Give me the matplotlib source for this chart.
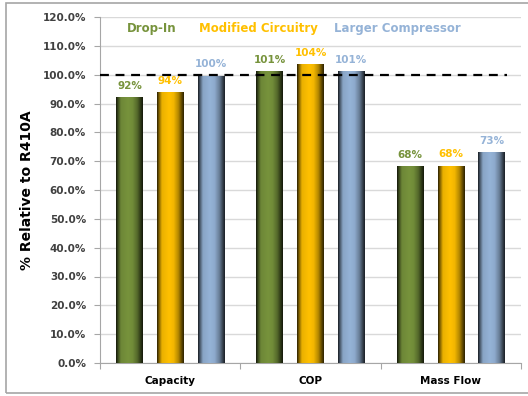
import numpy as np
import matplotlib
matplotlib.use("Agg")
import matplotlib.pyplot as plt
from matplotlib.colors import to_rgb
from matplotlib.patches import Rectangle

categories = ["Capacity", "COP", "Mass Flow"]
series_names = ["Drop-In", "Modified Circuitry", "Larger Compressor"]
drop_in = [92.2, 101.3, 68.3]
modified = [94.0, 103.6, 68.45]
larger = [99.6, 101.3, 73.2]
series_values = [drop_in, modified, larger]
series_colors = ["#77933C", "#FFC000", "#95B3D7"]
yticks = [0, 10, 20, 30, 40, 50, 60, 70, 80, 90, 100, 110, 120]
reference_level = 100

W, H = 528, 396
fig = plt.figure(figsize=(W / 100, H / 100), dpi=100)
ax = fig.add_axes([100 / W, 1 - 363 / H, 421 / W, 346 / H])

# outer chart frame
fig.add_artist(Rectangle((6 / W, 3 / H), 1.2, 390 / H, transform=fig.transFigure,
                         fill=False, edgecolor="#A6A6A6", linewidth=1.2))

x = np.arange(len(categories))
offsets = [-0.29, 0.0, 0.29]
width = 0.19

# horizontal shading profile for the cylindrical look
prof_x = np.array([0.0, 0.06, 0.18, 0.45, 0.62, 0.8, 0.93, 1.0])
prof_v = np.array([0.18, 0.45, 0.92, 1.0, 0.95, 0.7, 0.35, 0.18])
xs = np.linspace(0, 1, 64)
shade = np.interp(xs, prof_x, prof_v)

for vals, off, col in zip(series_values, offsets, series_colors):
    bars = ax.bar(x + off, vals, width, color=col, edgecolor="none", zorder=3)
    rgb = np.array(to_rgb(col))
    img = (shade[:, None] * rgb[None, :])[None, :, :]
    for b in bars:
        x0, w_, h_ = b.get_x(), b.get_width(), b.get_height()
        im = ax.imshow(img, extent=(x0, x0 + w_, 0, h_), aspect="auto",
                       interpolation="bilinear", zorder=3.5)
        im.set_clip_path(b)
        ax.text(x0 + w_ / 2, h_ + 2.2, f"{h_:.0f}%", ha="center", va="bottom",
                color=col, fontsize=7.5, fontweight="bold", zorder=5)

ax.set_xlim(-0.5, len(categories) - 0.5)
ax.set_ylim(0, 120)
ax.set_yticks(yticks)
ax.set_yticklabels([f"{v:.1f}%" for v in yticks], fontsize=7.5, fontweight="bold",
                   color="#404040")
ax.set_xticks(x)
ax.set_xticklabels(categories, fontsize=7.5, fontweight="bold", color="#000000")
ax.set_xticks(np.arange(-0.5, len(categories), 1.0), minor=True)
ax.tick_params(axis="x", which="major", length=0, pad=9)
ax.tick_params(axis="x", which="minor", length=4, color="#A6A6A6", width=0.8)
ax.tick_params(axis="y", length=4, color="#A6A6A6", width=0.8, pad=6)

ax.grid(axis="y", color="#D9D9D9", linewidth=1.0, zorder=0)
ax.set_axisbelow(True)
for s in ["top", "right"]:
    ax.spines[s].set_visible(False)
for s in ["left", "bottom"]:
    ax.spines[s].set_color("#A6A6A6")
    ax.spines[s].set_linewidth(0.8)

ax.plot([-0.5, 2.4], [reference_level, reference_level], color="black",
        linestyle=(0, (4, 3)), linewidth=1.6, zorder=4)

ax.set_ylabel("% Relative to R410A", fontsize=10, fontweight="bold", labelpad=6)

# series names written as coloured text across the top
legend_x = [0.064, 0.235, 0.555]
for name, col, lx in zip(series_names, series_colors, legend_x):
    ax.text(lx, 0.968, name, transform=ax.transAxes, color=col, fontsize=8.5,
            fontweight="bold", ha="left", va="center", zorder=5)

fig.savefig("out.png", dpi=100)
